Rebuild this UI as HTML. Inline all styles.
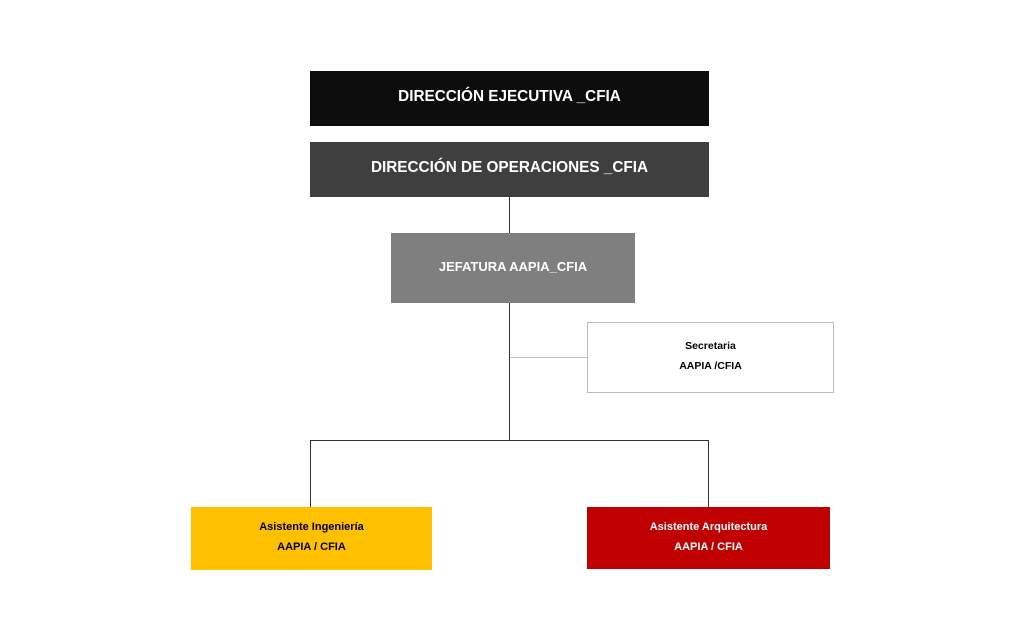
<!DOCTYPE html>
<html><head><meta charset="utf-8"><style>
body{margin:0;width:1024px;height:641px;background:#fff;position:relative;font-family:"Liberation Sans",sans-serif;font-weight:bold;overflow:hidden}
.b{position:absolute;display:flex;flex-direction:column;align-items:center;justify-content:center;text-align:center;box-sizing:border-box;padding-bottom:3px}
.l{position:absolute;background:#333}
</style></head><body>
<div class="l" style="left:509px;top:196px;width:1px;height:245px"></div>
<div class="l" style="left:510px;top:357px;width:77px;height:1px;background:#bbb"></div>
<div class="l" style="left:310px;top:440px;width:399px;height:1px"></div>
<div class="l" style="left:310px;top:440px;width:1px;height:67px"></div>
<div class="l" style="left:708px;top:440px;width:1px;height:67px"></div>
<div class="b" style="left:310px;top:71px;width:399px;height:55px;background:#0d0d0d;color:#fff;font-size:15.3px">DIRECCIÓN EJECUTIVA _CFIA</div>
<div class="b" style="left:310px;top:142px;width:399px;height:55px;background:#3f3f3f;color:#fff;font-size:15.3px">DIRECCIÓN DE OPERACIONES _CFIA</div>
<div class="b" style="left:391px;top:233px;width:244px;height:70px;background:#7f7f7f;color:#fff;font-size:13px">JEFATURA AAPIA_CFIA</div>
<div class="b" style="left:587px;top:322px;width:247px;height:71px;background:#fff;border:1px solid #bbb;color:#000;font-size:10.5px;line-height:20px">Secretaria<br>AAPIA /CFIA</div>
<div class="b" style="left:191px;top:507px;width:241px;height:63px;background:#ffc000;color:#000;font-size:11px;line-height:20px">Asistente Ingeniería<br>AAPIA / CFIA</div>
<div class="b" style="left:587px;top:507px;width:243px;height:62px;background:#c00000;color:#fff;font-size:11px;line-height:20px">Asistente Arquitectura<br>AAPIA / CFIA</div>
</body></html>
